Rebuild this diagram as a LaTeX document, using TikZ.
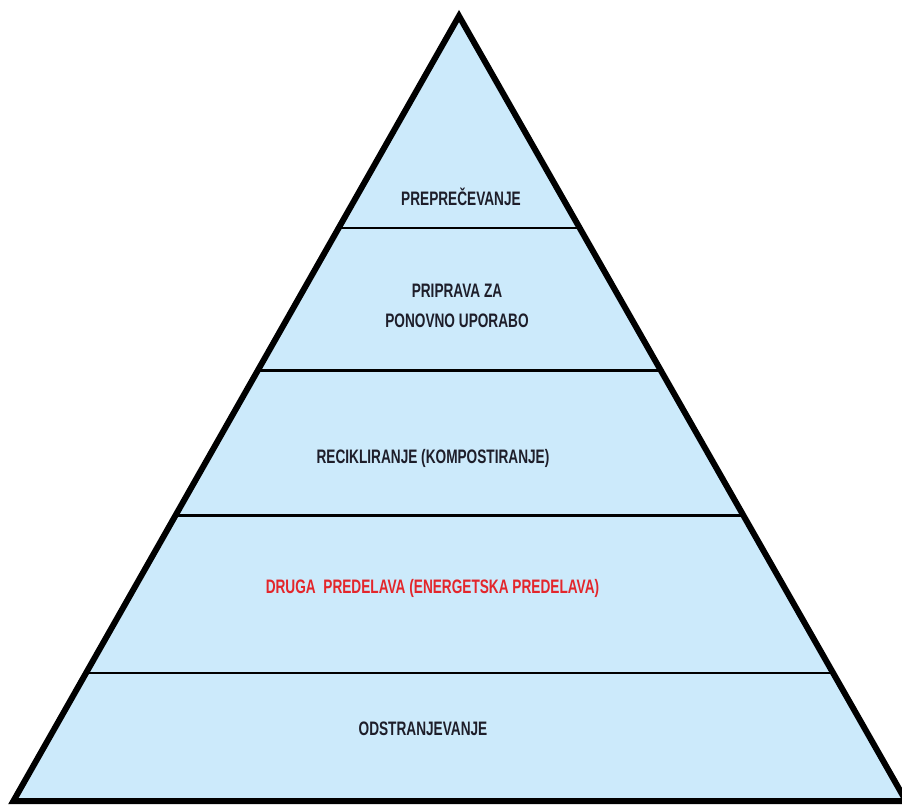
\documentclass[tikz,border=0pt]{standalone}
\usepackage{fontspec}
\newfontfamily\pyrfont[FakeStretch=0.7]{Liberation Sans}
\usetikzlibrary{positioning,calc}
\definecolor{pyrfill}{HTML}{CCEAFB}
\definecolor{pyrtext}{HTML}{1E1E2A}
\definecolor{pyrred}{HTML}{E3262B}

\begin{document}
\begin{tikzpicture}[x=1pt,y=-1pt,
  level/.style={font=\pyrfont\bfseries\fontsize{19.5}{30}\selectfont,text=pyrtext,align=center,inner sep=0pt}]
\clip (0,0) rectangle (902,805);
\useasboundingbox (0,0) rectangle (902,805);
\coordinate (top) at (459,16);
\coordinate (bl) at (13.4,801);
\coordinate (br) at (906,801);
\fill[pyrfill] (top)--(bl)--(br)--cycle;
% dividers
\foreach \t in {0.270,0.452,0.636,0.837}
  \draw[line width=2.8pt] ($(top)!\t!(bl)$) -- ($(top)!\t!(br)$);
\draw[line width=6pt,miter limit=20] (top)--(bl)--(br)--cycle;
\node[level] (0) at (461,197) {PREPREČEVANJE};
\node[level] (1) at (457,306) {PRIPRAVA ZA\\PONOVNO UPORABO};
\node[level] (2) at (433,458) {RECIKLIRANJE (KOMPOSTIRANJE)};
\node[level,text=pyrred] (3) at (432.5,588) {DRUGA\ \ PREDELAVA (ENERGETSKA PREDELAVA)};
\node[level] (4) at (423,729) {ODSTRANJEVANJE};
\end{tikzpicture}
\end{document}
